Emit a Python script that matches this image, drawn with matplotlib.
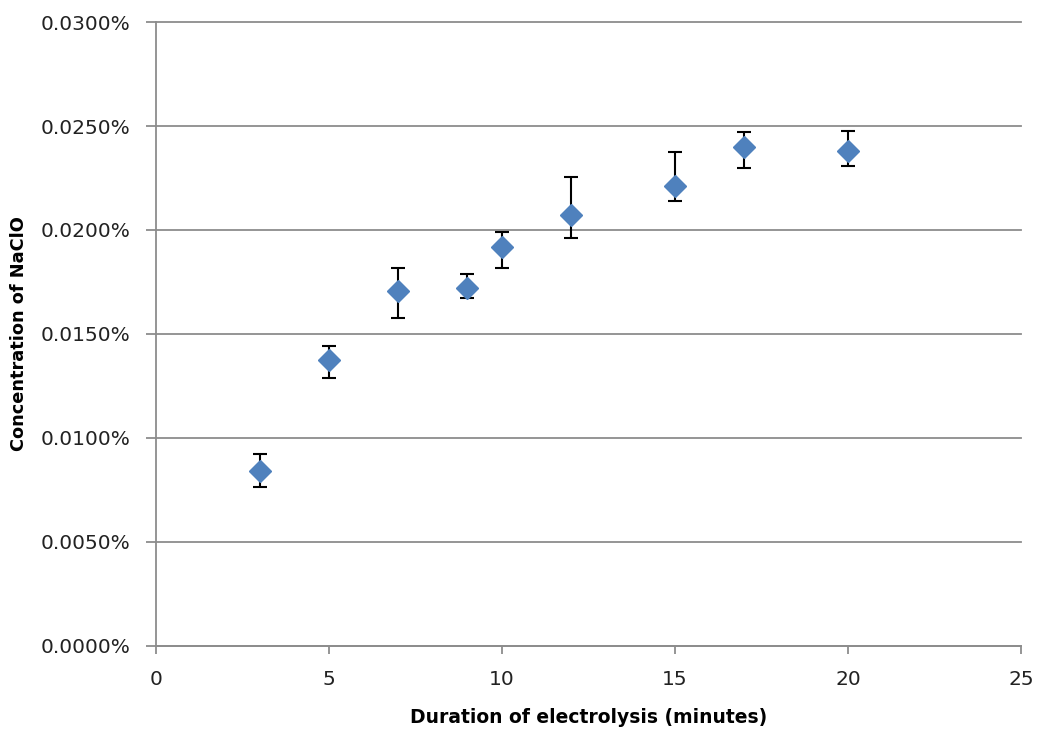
import matplotlib.pyplot as plt
from matplotlib.ticker import FuncFormatter

# data (concentration in %)
minutes = [3, 5, 7, 9, 10, 12, 15, 17, 20]
conc = [0.00843, 0.01377, 0.01705, 0.01719, 0.01917, 0.02071, 0.02210, 0.02398, 0.02379]
err_hi = [0.00924, 0.01440, 0.01815, 0.01787, 0.01989, 0.02254, 0.02374, 0.02470, 0.02475]
err_lo = [0.00766, 0.01290, 0.01575, 0.01671, 0.01815, 0.01960, 0.02138, 0.02297, 0.02307]

yerr = [[c - lo for c, lo in zip(conc, err_lo)],
        [hi - c for c, hi in zip(conc, err_hi)]]

plt.rcParams['font.family'] = ['DejaVu Sans']

fig = plt.figure(figsize=(10.37, 7.29), dpi=100)
ax = fig.add_axes([0.1504, 0.1139, 0.8342, 0.8559])

ax.errorbar(minutes, conc, yerr=yerr, fmt='none', ecolor='black',
            elinewidth=1.5, capsize=5, capthick=1.5, zorder=2)
ax.plot(minutes, conc, 'D', color='#4F81BD', markersize=11.5, zorder=3)

ax.set_xlim(0, 25)
ax.set_ylim(0, 0.03)
ax.set_xticks([0, 5, 10, 15, 20, 25])
ax.set_yticks([0, 0.005, 0.01, 0.015, 0.02, 0.025, 0.03])
ax.yaxis.set_major_formatter(FuncFormatter(lambda v, p: f'{v:.4f}%'))

ax.grid(axis='y', color='#8c8c8c', linewidth=1.3)
for gl in ax.get_ygridlines():
    gl.set_clip_on(False)
ax.set_axisbelow(True)
for s in ['top', 'right']:
    ax.spines[s].set_visible(False)
for s in ['left', 'bottom']:
    ax.spines[s].set_color('#8c8c8c')
    ax.spines[s].set_linewidth(1.3)
ax.tick_params(axis='both', colors='#8c8c8c', labelcolor='#222222', labelsize=14.5,
               width=1.3)
ax.tick_params(axis='y', length=7.5, pad=11)
ax.tick_params(axis='x', length=6, pad=11)

ax.set_xlabel('Duration of electrolysis (minutes)', fontsize=13.5, fontweight='bold', labelpad=14)
ax.set_ylabel('Concentration of NaClO', fontsize=12.8, fontweight='bold', labelpad=9)

fig.savefig('out.png', dpi=100)
